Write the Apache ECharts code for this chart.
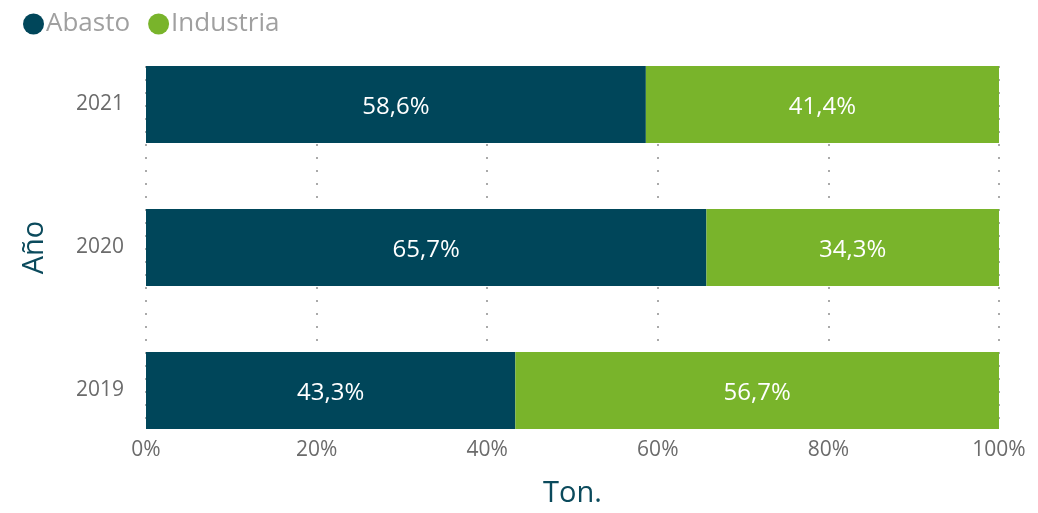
<!DOCTYPE html>
<html>
<head>
<meta charset="utf-8">
<script src="https://cdn.jsdelivr.net/npm/echarts@6/dist/echarts.min.js"></script>
<style>
  html, body { margin: 0; padding: 0; background: #fff; }
  #chart { width: 1038px; height: 513px; }
</style>
</head>
<body>
<div id="chart"></div>
<script>
// Share of tonnage by destination, per year
const years = ['2019', '2020', '2021'];
const abasto = [43.3, 65.7, 58.6];
const industria = [56.7, 34.3, 41.4];
const xTicks = [0, 20, 40, 60, 80, 100];

const FONT = '"Open Sans", "Noto Sans", sans-serif';
const pct = v => v.toFixed(1).replace('.', ',') + '%';

const chart = echarts.init(document.getElementById('chart'));
chart.setOption({
  animation: false,
  textStyle: { fontFamily: FONT },
  legend: {
    left: 18, top: 6,
    icon: 'circle', itemWidth: 21, itemHeight: 21, itemGap: 18,
    textStyle: { fontSize: 26, color: '#a0a0a0', fontFamily: FONT, padding: [0, 0, 0, -3] },
    data: ['Abasto', 'Industria']
  },
  grid: [
    // grid for the dotted reference lines and % ticks
    { left: 146, right: 39, top: 66, bottom: 83 },
    // grid carrying the bars
    { left: 146, right: 39, top: 33, bottom: 51 }
  ],
  xAxis: [
    {
      gridIndex: 0, type: 'value', min: xTicks[0], max: xTicks[xTicks.length - 1], interval: 20,
      axisLine: { show: false }, axisTick: { show: false },
      axisLabel: { formatter: v => v + '%', fontSize: 21, color: '#6b6b6b', margin: 14, fontFamily: FONT },
      splitLine: { show: true, lineStyle: { color: '#aaaaaa', width: 2, type: [2, 11] } },
      name: 'Ton.', nameLocation: 'middle', nameGap: 53,
      nameTextStyle: { fontSize: 29, color: '#0b4a5c', fontFamily: FONT }
    },
    {
      gridIndex: 1, type: 'value', min: 0, max: 100, show: false
    }
  ],
  yAxis: [
    { gridIndex: 0, type: 'category', data: years, show: false },
    {
      gridIndex: 1, type: 'category', data: years,
      axisLine: { show: false }, axisTick: { show: false },
      axisLabel: { fontSize: 21, color: '#6b6b6b', margin: 22, fontFamily: FONT },
      splitLine: { show: false },
      name: 'Año', nameLocation: 'middle', nameGap: 97, nameRotate: 90,
      nameTextStyle: { fontSize: 29, color: '#0b4a5c', fontFamily: FONT }
    }
  ],
  series: [
    {
      name: 'Abasto', type: 'bar', stack: 'total', xAxisIndex: 1, yAxisIndex: 1,
      data: abasto, barWidth: 77,
      itemStyle: { color: '#00465a' },
      label: { show: true, position: 'inside', color: '#ffffff', fontSize: 24, fontFamily: FONT,
               offset: [0, 3], formatter: p => pct(p.value) }
    },
    {
      name: 'Industria', type: 'bar', stack: 'total', xAxisIndex: 1, yAxisIndex: 1,
      data: industria, barWidth: 77,
      itemStyle: { color: '#79b42b' },
      label: { show: true, position: 'inside', color: '#ffffff', fontSize: 24, fontFamily: FONT,
               offset: [0, 3], formatter: p => pct(p.value) }
    }
  ]
});
</script>
</body>
</html>
